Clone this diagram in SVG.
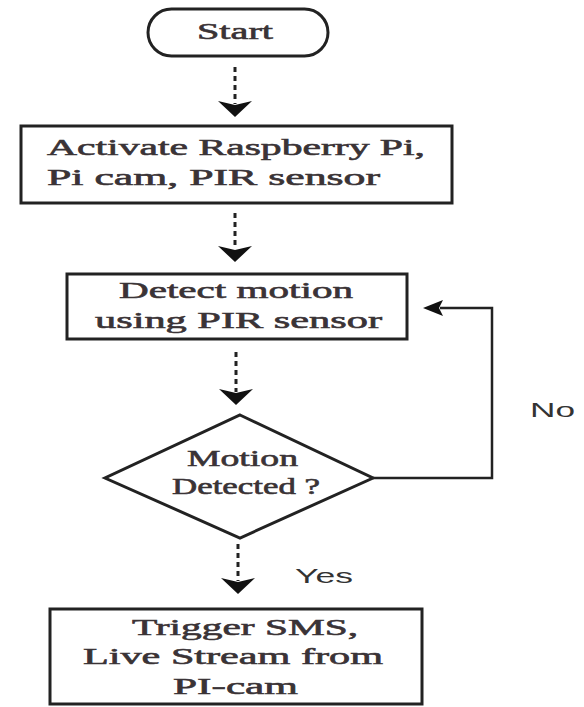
<svg xmlns="http://www.w3.org/2000/svg" width="584" height="707" viewBox="0 0 584 707">
<style>
.shape{fill:#fff;stroke:#222;stroke-width:3}
.t{font-family:"Liberation Serif","Times New Roman",serif;font-size:23px;fill:#3a3336;stroke:#3a3336;stroke-width:0.6}
.s{font-family:"Liberation Sans",Arial,sans-serif;font-size:21px;fill:#333}
.stem{stroke:#222;stroke-width:3;stroke-dasharray:5 4;fill:none}
.line{stroke:#222;stroke-width:2.5;fill:none}
.head{fill:#111}
</style>
<rect width="584" height="707" fill="#fff"/>
<g id="start">
<rect class="shape" x="148" y="9" width="180" height="47" rx="23.5" ry="23.5"/>
<text class="t" x="197" y="39" textLength="76" lengthAdjust="spacingAndGlyphs">Start</text>
</g>
<g id="activate">
<rect class="shape" x="21" y="126" width="431" height="77"/>
<text class="t" x="47" y="155" textLength="378" lengthAdjust="spacingAndGlyphs">Activate Raspberry Pi,</text>
<text class="t" x="47" y="185" textLength="333" lengthAdjust="spacingAndGlyphs">Pi cam, PIR sensor</text>
</g>
<g id="detect">
<rect class="shape" x="67" y="274" width="340" height="65"/>
<text class="t" x="119" y="298" textLength="234" lengthAdjust="spacingAndGlyphs">Detect motion</text>
<text class="t" x="95" y="328" textLength="287" lengthAdjust="spacingAndGlyphs">using PIR sensor</text>
</g>
<g id="decision">
<polygon class="shape" points="240,415 373,478 240,538 105,478"/>
<text class="t" x="187" y="466" textLength="111" lengthAdjust="spacingAndGlyphs">Motion</text>
<text class="t" x="172" y="494" textLength="148" lengthAdjust="spacingAndGlyphs">Detected ?</text>
</g>
<g id="trigger">
<rect class="shape" x="50" y="609" width="372" height="95"/>
<text class="t" x="132" y="635" textLength="226" lengthAdjust="spacingAndGlyphs">Trigger SMS,</text>
<text class="t" x="83" y="664" textLength="300" lengthAdjust="spacingAndGlyphs">Live Stream from</text>
<text class="t" x="173" y="694" textLength="125" lengthAdjust="spacingAndGlyphs">PI-cam</text>
</g>
<g id="connectors">
<line class="stem" x1="235" y1="67" x2="235" y2="104"/>
<polygon class="head" points="218,101 235,105 252,101 235,117"/>
<line class="stem" x1="235" y1="213" x2="235" y2="249"/>
<polygon class="head" points="218,246 235,250 252,246 235,262"/>
<line class="stem" x1="236" y1="352" x2="236" y2="392"/>
<polygon class="head" points="219,389 236,393 253,389 236,405"/>
<line class="stem" x1="238" y1="544" x2="238" y2="581"/>
<polygon class="head" points="221,578 238,582 255,578 238,594"/>
<polyline class="line" points="373,478 492,478 492,308 440,308"/>
<polygon class="head" points="443,300 439,308 443,316 423,308"/>
<text class="s" x="530" y="417" textLength="45" lengthAdjust="spacingAndGlyphs">No</text>
<text class="s" x="295" y="583" textLength="58" lengthAdjust="spacingAndGlyphs">Yes</text>
</g>
</svg>
